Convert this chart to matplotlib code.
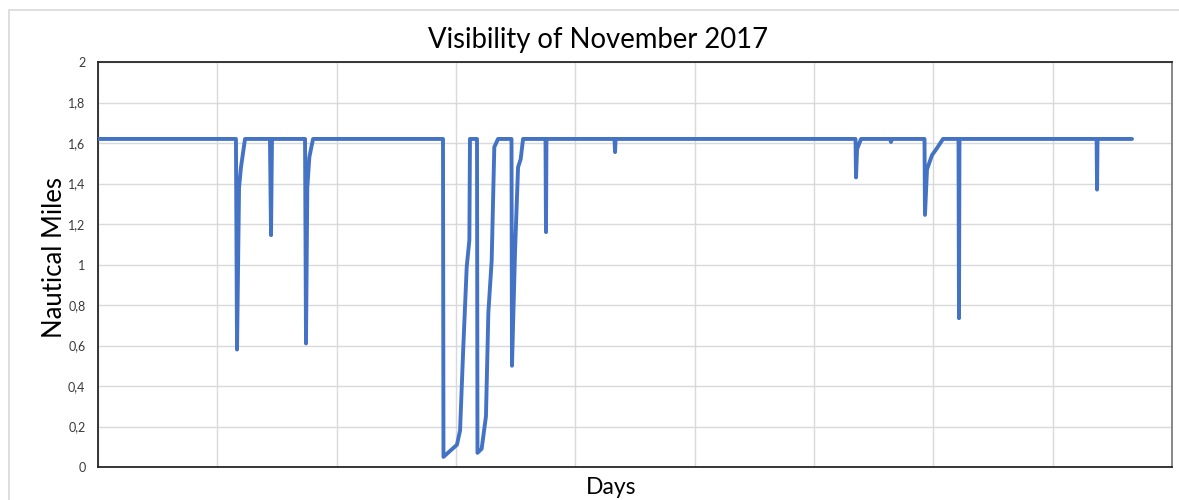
import matplotlib
matplotlib.use("Agg")
import matplotlib.pyplot as plt
from matplotlib.patches import Rectangle

plt.rcParams['font.family'] = ['Lato', 'DejaVu Sans']

# Observation position (grid units along the month) and visibility (nautical miles)
obs_pos = [0.000, 1.156, 1.165, 1.182, 1.198, 1.215, 1.232,
           1.441, 1.450, 1.458,
           1.735, 1.743, 1.754, 1.771, 1.802,
           2.891, 2.895, 3.008, 3.034, 3.061, 3.090, 3.112, 3.117,
           3.176, 3.180, 3.215, 3.251, 3.271, 3.299, 3.321, 3.352,
           3.465, 3.469, 3.495, 3.520, 3.542, 3.562,
           3.750, 3.754, 3.758,
           4.328, 4.333, 4.337,
           6.348, 6.352, 6.361, 6.394,
           6.637, 6.645, 6.654,
           6.926, 6.930, 6.947, 6.989, 7.031, 7.081,
           7.211, 7.215, 7.219,
           8.368, 8.372, 8.376,
           8.665]
visibility = [1.62, 1.62, 0.58, 1.38, 1.48, 1.55, 1.62,
              1.62, 1.145, 1.62,
              1.62, 0.61, 1.38, 1.53, 1.62,
              1.62, 0.05, 0.11, 0.18, 0.59, 0.99, 1.12, 1.62,
              1.62, 0.07, 0.09, 0.25, 0.76, 1.02, 1.58, 1.62,
              1.62, 0.50, 1.07, 1.48, 1.52, 1.62,
              1.62, 1.16, 1.62,
              1.62, 1.555, 1.62,
              1.62, 1.43, 1.57, 1.62,
              1.62, 1.605, 1.62,
              1.62, 1.245, 1.47, 1.54, 1.575, 1.62,
              1.62, 0.735, 1.62,
              1.62, 1.37, 1.62,
              1.62]

y_ticks = [0, 0.2, 0.4, 0.6, 0.8, 1.0, 1.2, 1.4, 1.6, 1.8, 2.0]
y_tick_labels = ["0", "0,2", "0,4", "0,6", "0,8", "1", "1,2", "1,4", "1,6", "1,8", "2"]
x_grid = [0, 1, 2, 3, 4, 5, 6, 7, 8, 9]

W, H = 1179, 500
fig = plt.figure(figsize=(W / 100, H / 100), dpi=100)
fig.patch.set_facecolor("white")

# outer chart frame
fig.patches.append(Rectangle((9 / W, -0.05), (1190 - 9) / W, (500 - 10) / H + 0.05,
                             transform=fig.transFigure, fill=False,
                             edgecolor="#D9D9D9", linewidth=1.2, zorder=0))

ax = fig.add_axes([98 / W, 1 - 467 / H, (1172 - 98) / W, (467 - 62) / H])
ax.plot(obs_pos, visibility, color="#4472C4", linewidth=2.8,
        solid_joinstyle="round", solid_capstyle="round", zorder=3)

ax.set_xlim(0, 9)
ax.set_ylim(0, 2)
ax.set_xticks(x_grid)
ax.set_xticklabels([])
ax.set_yticks(y_ticks)
ax.set_yticklabels(y_tick_labels)
ax.tick_params(axis="both", length=0)
ax.tick_params(axis="y", labelsize=9, labelcolor="#3A3A3A", pad=9)
ax.grid(True, color="#D9D9D9", linewidth=1.0, zorder=0)
ax.set_axisbelow(True)

for side in ["left", "bottom", "top"]:
    ax.spines[side].set_color("#262626")
    ax.spines[side].set_linewidth(1.3)
ax.spines["right"].set_color("#7F7F7F")
ax.spines["right"].set_linewidth(1.3)

fig.text(598 / W, 1 - 40 / H, "Visibility of November 2017", ha="center", va="center",
         fontsize=19.8, color="#000000")
fig.text(55 / W, 1 - 258 / H, "Nautical Miles", ha="center", va="center",
         rotation=90, fontsize=18.5, color="#000000")
fig.text(611 / W, 1 - 488 / H, "Days", ha="center", va="center",
         fontsize=16.5, color="#000000")

fig.savefig("out.png", dpi=100)
